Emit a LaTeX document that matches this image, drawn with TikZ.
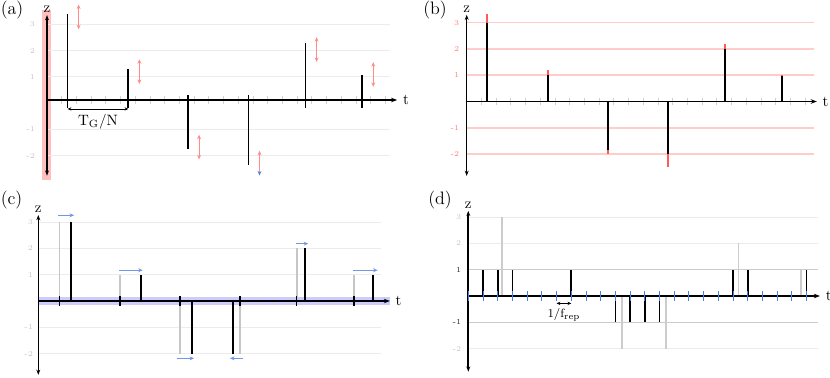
\documentclass[tikz,border=0pt]{standalone}
\usetikzlibrary{arrows.meta}

\definecolor{tickblue}{RGB}{70,130,230}
\definecolor{shiftblue}{RGB}{115,150,230}

\tikzset{
  axline/.style={line width=1.3pt},
  axarr/.style={axline, -{Stealth[length=4pt,width=3pt]}},
  zarr/.style={axline, {Stealth[length=3.5pt,width=2.6pt]}-{Stealth[length=3.5pt,width=2.6pt]}},
  gridln/.style={gray!15, line width=0.6pt},
  tickln/.style={gray!35, line width=0.5pt},
  pulse/.style={line width=1.15pt},
  ghost/.style={gray!45, line width=1.1pt},
  errln/.style={red!65, line width=1.2pt},
  ticklbl/.style={font=\tiny, text=gray!45, anchor=east, inner sep=1pt},
  axlbl/.style={inner sep=1pt},
  jitter/.style={red!45, line width=0.5pt,
    {Stealth[length=3pt,width=2.6pt]}-{Stealth[length=3pt,width=2.6pt]}},
  jitterlow/.style={red!45, line width=0.5pt,
    {Stealth[length=3pt,width=2.6pt,color=tickblue]}-{Stealth[length=3pt,width=2.6pt]}},
  shiftarr/.style={shiftblue, line width=0.6pt, -{Stealth[length=3pt,width=2.6pt]}},
  dimarr/.style={line width=0.4pt,
    {Stealth[length=2.5pt,width=2.2pt]}-{Stealth[length=2.5pt,width=2.2pt]}},
  panel/.style={font=\large, anchor=north west, inner sep=0pt}
}

\begin{document}
\begin{tikzpicture}[x=0.6667pt, y=0.6667pt]
  \useasboundingbox (0,0) rectangle (830,377);
  % Panel letters
  \node[panel] (lbl-a) at (0.5,376) {(a)};
  \node[panel] (lbl-b) at (423,376) {(b)};
  \node[panel] (lbl-c) at (0.5,186) {(c)};
  \node[panel] (lbl-d) at (428,186) {(d)};

  % ---------------- (a) amplitude spread
  \begin{scope}[shift={(47,277)}, x=9.807pt, y=17.53pt]
    % Highlight on the z axis
    \fill[red!25] (-0.35,-3.04) rectangle (0.3,3.42);
    % Light grid
    \foreach \z in {-2,-1,1,2,3} {
      \draw[gridln] (0,\z-0.12) -- (23.3,\z-0.12);
      \node[ticklbl] (a-y\z) at (-0.7,\z-0.12) {\z};
    }
    % Ticks
    \foreach \k in {1,...,23}
      \draw[tickln] (\k,-0.15) -- (\k,0.15);
    % Axes
    \draw[axarr] (0,0) -- (23.8,0) node[right] (a-t) {t};
    \draw[zarr] (0,-2.88) -- (0,3.23) node[above, axlbl] (a-z) {z};
    % Pulses and their spread
    \foreach \p/\v/\c/\s in {1.4/3.27/3.16/jitter, 5.53/1.18/1.08/jitter,
        9.59/-1.86/-1.79/jitter, 13.7/-2.47/-2.4/jitterlow,
        17.58/2.17/1.92/jitter, 21.43/0.95/0.97/jitter} {
      \draw[pulse] (\p,0) -- (\p,\v);
      \draw[pulse] (\p,-0.3) -- (\p,0.2);
      \draw[\s] (\p+0.75,\c-0.47) -- (\p+0.75,\c+0.47);
    }
    % Pulse spacing
    \coordinate (a-s1) at (1.4,-0.34);
    \coordinate (a-s2) at (5.53,-0.34);
    \draw[dimarr] (a-s1) -- (a-s2) node[midway, below=0pt] (a-tg) {T$_\mathrm{G}$/N};
  \end{scope}

  % ---------------- (b) quantised amplitudes
  \begin{scope}[shift={(466.7,275.5)}, x=9.807pt, y=17.53pt]
    % Amplitude levels
    \foreach \z in {-2,-1,1,2,3} {
      \draw[red!20, line width=1pt] (0,\z) -- (23.6,\z);
      \node[ticklbl, text=red!50] (b-y\z) at (-0.39,\z) {\z};
    }
    \foreach \k in {1,...,23}
      \draw[tickln] (\k,-0.15) -- (\k,0.15);
    \draw[axarr, line width=1pt] (0,0) -- (23.8,0) node[right] (b-t) {t};
    \draw[zarr, line width=1pt] (0,-2.83) -- (0,3.3) node[above, axlbl] (b-z) {z};
    % Pulses, error in red
    \foreach \p/\b/\r in {1.4/3/3.33, 5.53/1/1.2, 9.59/-1.84/-2,
        13.7/-2/-2.5, 17.58/2/2.19, 21.43/0.97/1} {
      \draw[pulse] (\p,0) -- (\p,\b);
      \draw[errln] (\p,\b) -- (\p,\r);
    }
  \end{scope}

  % ---------------- (c) timing shift
  \begin{scope}[shift={(38.3,76)}, x=9.807pt, y=17.53pt]
    % Band along the t axis
    \fill[blue!20] (-0.05,-0.17) rectangle (23.9,0.17);
    \foreach \z in {-2,-1,1,2,3} {
      \draw[gridln] (0,\z) -- (23.3,\z);
      \node[ticklbl] (c-y\z) at (-0.24,\z) {\z};
    }
    \foreach \k in {1,...,23}
      \draw[tickln] (\k,-0.15) -- (\k,0.15);
    % Original (gray) and shifted (black) pulses
    \foreach \o/\s/\q/\h/\a/\e in {1.43/2.22/3/3.26/1.36/2.43,
        5.55/6.98/1/1.17/5.49/7.1, 9.63/10.47/-2/-2.18/9.41/10.59,
        13.71/13.26/-2/-2.18/13.9/13.03, 17.57/18.13/2/2.18/17.52/18.35,
        21.46/22.77/1/1.17/21.37/23.07} {
      \draw[ghost] (\o,0) -- (\o,\q);
      \draw[pulse] (\s,0) -- (\s,\q);
      \draw[shiftarr] (\a,\h) -- (\e,\h);
    }
    \draw[axarr, line width=1pt] (0,0) -- (23.9,0) node[right] (c-t) {t};
    \draw[zarr, line width=1pt] (0,-2.81) -- (0,3.27) node[above, axlbl] (c-z) {z};
    % Marks at the original times
    \foreach \o in {1.43,5.55,9.63,13.71,17.57,21.46}
      \draw[pulse, line width=0.8pt] (\o,-0.19) -- (\o,0.19);
  \end{scope}

  % ---------------- (d) unit pulses at f_rep
  \begin{scope}[shift={(468.3,81)}, x=9.807pt, y=17.53pt]
    \foreach \z in {-2,2,3} {
      \draw[gridln] (0,\z) -- (23.8,\z);
      \node[ticklbl] (d-y\z) at (-0.35,\z) {\z};
    }
    \foreach \z in {-1,1} {
      \draw[gray!40, line width=0.7pt] (0,\z) -- (23.8,\z);
      \node[ticklbl, text=black!85] (d-y\z) at (-0.35,\z) {\z};
    }
    % Pulses from (c)
    \foreach \p/\q in {2.31/3, 7/1, 10.45/-2, 13.43/-2, 18.36/2, 22.62/1}
      \draw[ghost, gray!40] (\p,0) -- (\p,\q);
    % Unit pulses
    \foreach \k in {1,2,3,7,18,19,23}
      \draw[pulse] (\k,0) -- (\k,1);
    \foreach \k in {10,...,13}
      \draw[pulse] (\k,0) -- (\k,-1);
    \draw[axarr] (0,0) -- (23.9,0) node[right] (d-t) {t};
    \draw[zarr] (0,-2.88) -- (0,3.24) node[above, axlbl] (d-z) {z};
    % Repetition grid
    \foreach \k in {0,...,23}
      \draw[tickblue, line width=0.6pt] (\k,-0.19) -- (\k,0.19);
    \coordinate (d-r1) at (6,-0.28);
    \coordinate (d-r2) at (7,-0.28);
    \draw[dimarr] (d-r1) -- (d-r2)
      node[midway, below=0pt, font=\footnotesize] (d-fr) {1/f$_\mathrm{rep}$};
  \end{scope}
\end{tikzpicture}
\end{document}
